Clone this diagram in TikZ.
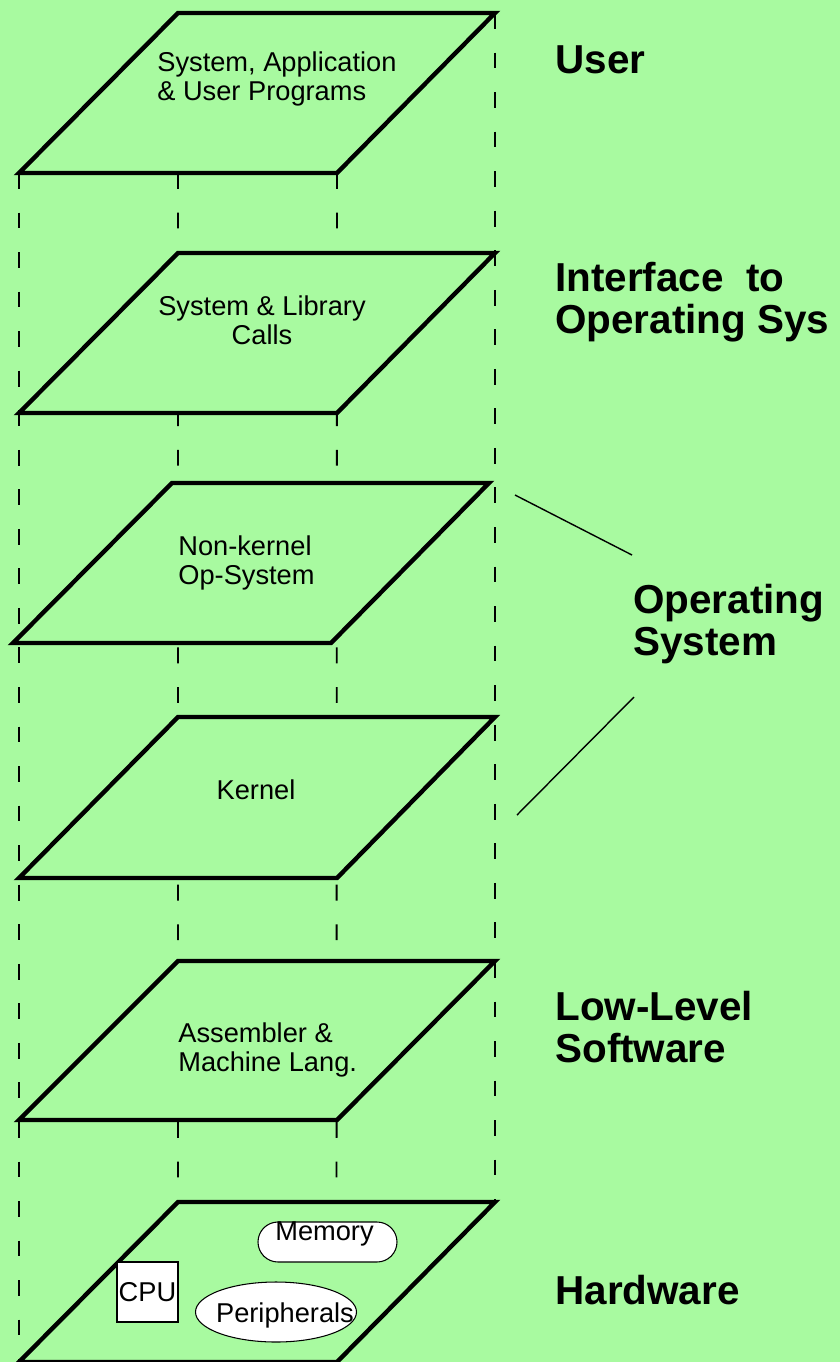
\documentclass[tikz,border=0pt]{standalone}
\usepackage{fontspec}
\setmainfont{Liberation Sans}
\usepackage{tikz}
\usetikzlibrary{calc}
\definecolor{bggreen}{RGB}{168,250,160}
\def\unit{0.2mm}

\begin{document}
\begin{tikzpicture}[x=\unit, y=-\unit,
  plane/.style={line width=2.5pt, line join=miter, fill=bggreen},
  guide/.style={line width=1.1pt, dash pattern=on 9pt off 13.5pt},
  layer/.style={font=\fontsize{15.5}{16.5}\selectfont, inner sep=0pt},
  hwbox/.style={draw, fill=white, line width=0.6pt, inner sep=0pt, font=\fontsize{15.5}{16.5}\selectfont},
  side/.style={font=\fontsize{23}{24}\selectfont\bfseries, align=left, anchor=west, inner sep=0pt},
  pointer/.style={line width=0.8pt}]

\fill[bggreen] (0,0) rectangle (840,1362);
\useasboundingbox (0,0) rectangle (840,1362);

% plane corners

\coordinate (U1) at (178, 13);
\coordinate (U2) at (495, 13);
\coordinate (U3) at (337, 173);
\coordinate (U4) at (19, 173);

\coordinate (I1) at (178, 253);
\coordinate (I2) at (495, 253);
\coordinate (I3) at (337, 413);
\coordinate (I4) at (19, 413);

\coordinate (N1) at (172, 483);
\coordinate (N2) at (489, 483);
\coordinate (N3) at (331, 643);
\coordinate (N4) at (13, 643);

\coordinate (K1) at (178, 717);
\coordinate (K2) at (495, 717);
\coordinate (K3) at (337, 878);
\coordinate (K4) at (19, 878);

\coordinate (L1) at (178, 961);
\coordinate (L2) at (495, 961);
\coordinate (L3) at (337, 1120);
\coordinate (L4) at (19, 1120);

\coordinate (H1) at (178, 1202);
\coordinate (H2) at (495, 1202);
\coordinate (H3) at (337, 1362);
\coordinate (H4) at (19, 1362);

% dashed guides

\draw[guide] (U4) -- (H4);
\draw[guide] (U2) -- (H2);
\draw[guide] ($(U4)!0.5!(U3)$) -- (H1);
\draw[guide] (U3) -- ($(H1)!0.5!(H2)$);

% planes

\draw[plane] (U1) -- (U2) -- (U3) -- (U4) -- cycle;
\draw[plane] (I1) -- (I2) -- (I3) -- (I4) -- cycle;
\draw[plane] (N1) -- (N2) -- (N3) -- (N4) -- cycle;
\draw[plane] (K1) -- (K2) -- (K3) -- (K4) -- cycle;
\draw[plane] (L1) -- (L2) -- (L3) -- (L4) -- cycle;
\draw[plane] (H1) -- (H2) -- (H3) -- (H4) -- cycle;

% plane texts

\node[layer, align=left, anchor=west] (progs) at (157, 79) {System, Application\\\& User Programs};
\node[layer, align=center] (calls) at (262, 320) {System \& Library\\Calls};
\node[layer, align=left, anchor=west] (nonkernel) at (178, 563) {Non-kernel\\Op-System};
\node[layer] (kernel) at (256, 790) {Kernel};
\node[layer, align=left, anchor=west] (asm) at (178, 1050) {Assembler \&\\Machine Lang.};

% hardware parts

\node[hwbox, minimum width=12.2mm, minimum height=12mm] (cpu) at (147.5, 1292) {CPU};
\node[hwbox, rounded corners=4mm, minimum width=27.8mm, minimum height=8mm] (memory) at (327.5, 1242) {};
\node[layer] (memtext) at ($(memory)+(-3,-8)$) {Memory};
\draw[hwbox] (276, 1312) ellipse [x radius=80.5, y radius=30];
\node[layer] (periph) at (285, 1315) {Peripherals};

% side labels

\node[side] (userlbl) at (555, 60) {User};
\node[side] (ifacelbl) at (555, 302) {Interface\ \ to\\Operating Sys};
\node[side] (oslbl) at (633, 624) {Operating\\System};
\node[side] (lowlbl) at (555, 1027) {Low-Level\\Software};
\node[side] (hwlbl) at (555, 1290) {Hardware};

% pointers to operating system

\coordinate (osA) at (515, 495);
\coordinate (osB) at (632, 555);
\coordinate (osC) at (634, 697);
\coordinate (osD) at (517, 815);
\draw[pointer] (osA) -- (osB);
\draw[pointer] (osD) -- (osC);

\end{tikzpicture}
\end{document}
